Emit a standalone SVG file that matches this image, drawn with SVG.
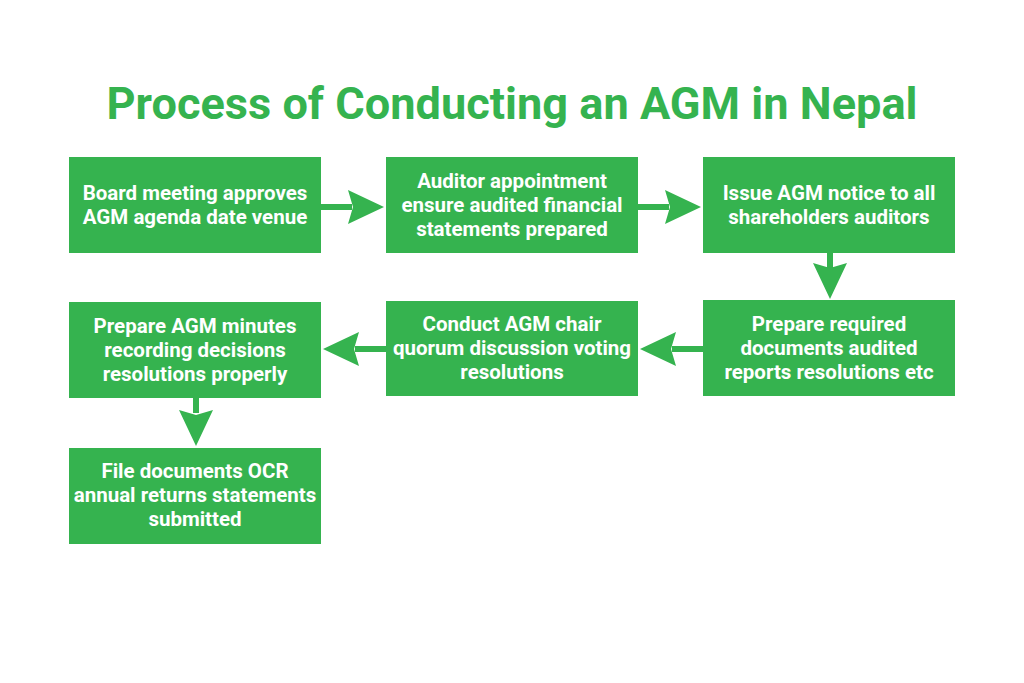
<svg xmlns="http://www.w3.org/2000/svg" width="1024" height="683" viewBox="0 0 1024 683">
<defs>
<style>
.box{fill:#35B34F;}
.t{font-family:Roboto,"Liberation Sans",sans-serif;font-weight:bold;font-size:20.5px;fill:#fff;text-anchor:middle;}
.title{font-family:Roboto,"Liberation Sans",sans-serif;font-weight:bold;font-size:44px;fill:#35B34F;text-anchor:middle;}
.ln{stroke:#35B34F;stroke-width:6;fill:none;}
.ah{fill:#35B34F;}
</style>
</defs>
<rect width="1024" height="683" fill="#fff"/>
<text class="title" x="512" y="119" textLength="811" lengthAdjust="spacingAndGlyphs">Process of Conducting an AGM in Nepal</text>
<g id="n1"><rect class="box" x="69" y="157" width="252" height="96"/><text class="t" x="195" y="200">Board meeting approves</text><text class="t" x="195" y="224">AGM agenda date venue</text></g>
<g id="n2"><rect class="box" x="386" y="157" width="252" height="96"/><text class="t" x="512" y="188">Auditor appointment</text><text class="t" x="512" y="212">ensure audited financial</text><text class="t" x="512" y="236">statements prepared</text></g>
<g id="n3"><rect class="box" x="703" y="157" width="252" height="96"/><text class="t" x="829" y="200">Issue AGM notice to all</text><text class="t" x="829" y="224">shareholders auditors</text></g>
<g id="n4"><rect class="box" x="703" y="300" width="252" height="96"/><text class="t" x="829" y="331">Prepare required</text><text class="t" x="829" y="355">documents audited</text><text class="t" x="829" y="379">reports resolutions etc</text></g>
<g id="n5"><rect class="box" x="386" y="301" width="252" height="95"/><text class="t" x="512" y="331">Conduct AGM chair</text><text class="t" x="512" y="355">quorum discussion voting</text><text class="t" x="512" y="379">resolutions</text></g>
<g id="n6"><rect class="box" x="69" y="302" width="252" height="96"/><text class="t" x="195" y="333">Prepare AGM minutes</text><text class="t" x="195" y="357">recording decisions</text><text class="t" x="195" y="381">resolutions properly</text></g>
<g id="n7"><rect class="box" x="69" y="448" width="252" height="96"/><text class="t" x="195" y="478">File documents OCR</text><text class="t" x="195" y="502">annual returns statements</text><text class="t" x="195" y="526">submitted</text></g>
<g id="connectors">
<line class="ln" x1="321" y1="207" x2="352" y2="207"/>
<path class="ah" d="M384,207 L348,190 L353,207 L348,224 Z"/>
<line class="ln" x1="638" y1="207" x2="669" y2="207"/>
<path class="ah" d="M701,207 L665,190 L670,207 L665,224 Z"/>
<line class="ln" x1="830" y1="253" x2="830" y2="268"/>
<path class="ah" d="M830,299 L813,263 L830,268 L847,263 Z"/>
<line class="ln" x1="703" y1="349" x2="672" y2="349"/>
<path class="ah" d="M640,349 L676,332 L671,349 L676,366 Z"/>
<line class="ln" x1="386" y1="349" x2="355" y2="349"/>
<path class="ah" d="M323,349 L359,332 L354,349 L359,366 Z"/>
<line class="ln" x1="196" y1="398" x2="196" y2="413"/>
<path class="ah" d="M196,446 L179,410 L196,415 L213,410 Z"/>
</g>
</svg>
